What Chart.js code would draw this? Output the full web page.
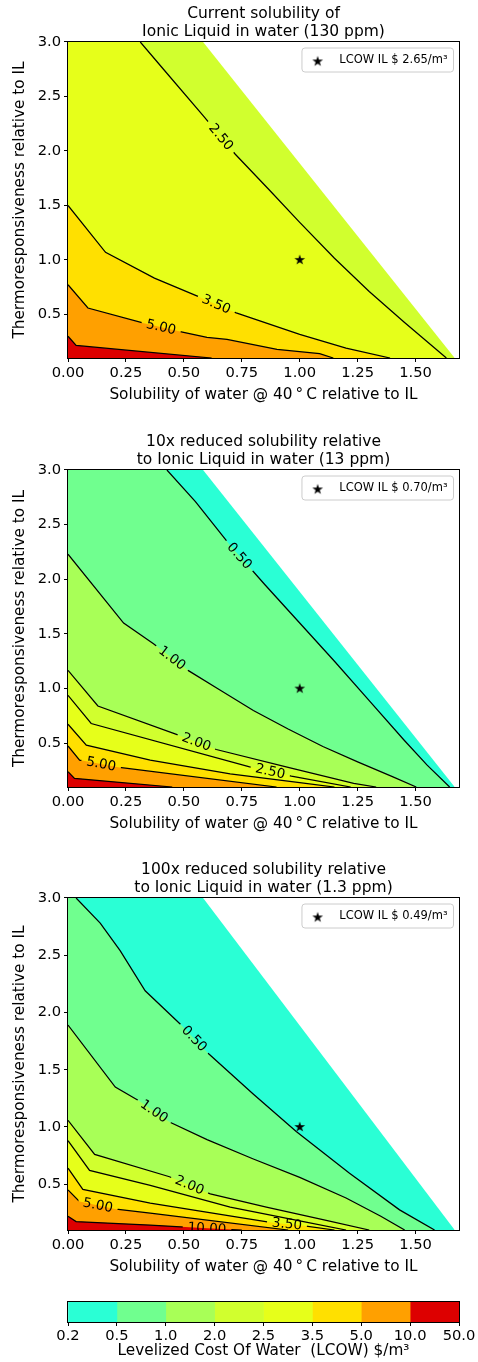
<!DOCTYPE html>
<html>
<head>
<meta charset="utf-8">
<title>LCOW contour maps</title>
<script src="https://cdn.jsdelivr.net/npm/chart.js@4.4.1/dist/chart.umd.min.js"></script>
<style>
  html, body { margin: 0; padding: 0; background: #fff; }
  body { position: relative; width: 478px; height: 1362px; overflow: hidden; }
  canvas { position: absolute; left: 0; }
</style>
</head>
<body>
<canvas id="panel1" width="478" height="404" style="top:0px"></canvas>
<canvas id="panel2" width="478" height="405" style="top:428px"></canvas>
<canvas id="panel3" width="478" height="420" style="top:856px"></canvas>
<canvas id="colorbar" width="478" height="72" style="top:1290px"></canvas>
<script>
// contour levels (LCOW $/m3) and axis ticks
const levels = [0.2, 0.5, 1.0, 2.0, 2.5, 3.5, 5.0, 10.0, 50.0];
const colorbarSpan = [1, 1, 1, 1, 1, 1, 1, 1];
const xTicks = [0, 0.25, 0.5, 0.75, 1.0, 1.25, 1.5];
const yTicks = [0.5, 1.0, 1.5, 2.0, 2.5, 3.0];
const xRange = [0, 1.6875];
const yRange = [0.1, 3.0];

// edge of the feasible region (white beyond it)
const domainEdge = [[0.583, 3.0], [1.669, 0.1]];
const bestPoint = [1.0, 1.0];
const lcowIL = [2.65, 0.70, 0.49];

const panelTitles = [
  ['Current solubility of', 'Ionic Liquid in water (130 ppm)'],
  ['10x reduced solubility relative', 'to Ionic Liquid in water (13 ppm)'],
  ['100x reduced solubility relative', 'to Ionic Liquid in water (1.3 ppm)']
];

// panel 1 - current solubility
const cur250 = [[0.312, 3.0], [0.412, 2.75], [0.585, 2.32], [0.722, 1.97], [0.870, 1.639], [1.0, 1.345], [1.15, 1.015], [1.30, 0.71], [1.45, 0.43], [1.633, 0.1]];
const cur350 = [[0, 1.5], [0.162, 1.07], [0.373, 0.833], [0.561, 0.665], [0.726, 0.514], [1.0, 0.316], [1.2, 0.19], [1.39, 0.1]];
const cur500 = [[0, 0.772], [0.086, 0.559], [0.323, 0.422], [0.489, 0.340], [0.6, 0.29], [0.686, 0.27], [0.902, 0.18], [1.086, 0.14], [1.145, 0.1]];
const cur1000 = [[0, 0.30], [0.035, 0.215], [0.62, 0.1]];
const curLabels = [[2.5, 0.66], [3.5, 0.64], [5.0, 0.402]];

// panel 2 - 10x reduced
const r10_050 = [[0.427, 3.0], [0.55, 2.71], [0.70, 2.31], [0.85, 1.95], [1.0, 1.60], [1.15, 1.25], [1.30, 0.89], [1.45, 0.53], [1.55, 0.30], [1.647, 0.1]];
const r10_100 = [[0, 2.23], [0.240, 1.60], [0.369, 1.41], [0.518, 1.167], [0.654, 0.99], [0.80, 0.80], [0.95, 0.63], [1.10, 0.47], [1.25, 0.33], [1.40, 0.195], [1.503, 0.1]];
const r10_200 = [[0, 1.167], [0.129, 0.841], [0.465, 0.583], [0.640, 0.443], [0.95, 0.28], [1.233, 0.133], [1.33, 0.1]];
const r10_250 = [[0, 0.939], [0.100, 0.681], [0.784, 0.285], [0.964, 0.20], [1.22, 0.1]];
const r10_350 = [[0, 0.674], [0.079, 0.483], [0.355, 0.346], [0.7, 0.22], [1.0, 0.14], [1.15, 0.1]];
const r10_500 = [[0, 0.475], [0.05, 0.346], [0.222, 0.279], [0.9, 0.1]];
const r10_1000 = [[0, 0.24], [0.028, 0.179], [0.45, 0.1]];
const r10Labels = [[0.5, 0.74], [1.0, 0.449], [2.0, 0.554], [2.5, 0.873], [5.0, 0.143]];

// panel 3 - 100x reduced
const r100_050 = [[0.035, 3.0], [0.139, 2.78], [0.225, 2.54], [0.333, 2.19], [0.484, 1.90], [0.607, 1.64], [0.798, 1.29], [0.985, 0.96], [1.215, 0.595], [1.431, 0.276], [1.582, 0.1]];
const r100_100 = [[0, 1.89], [0.204, 1.348], [0.304, 1.232], [0.438, 1.043], [0.6, 0.89], [0.8, 0.72], [1.0, 0.56], [1.2, 0.38], [1.35, 0.22], [1.453, 0.1]];
const r100_200 = [[0, 1.058], [0.115, 0.76], [0.438, 0.565], [0.614, 0.415], [0.856, 0.30], [1.1, 0.19], [1.3, 0.1]];
const r100_250 = [[0, 0.88], [0.093, 0.62], [0.355, 0.49], [0.7, 0.30], [1.0, 0.18], [1.2, 0.1]];
const r100_350 = [[0, 0.64], [0.064, 0.455], [0.355, 0.334], [0.88, 0.165], [1.02, 0.137], [1.15, 0.1]];
const r100_500 = [[0, 0.45], [0.05, 0.348], [0.208, 0.282], [0.355, 0.247], [0.95, 0.1]];
const r100_1000 = [[0, 0.22], [0.035, 0.174], [0.355, 0.143], [0.6, 0.115], [0.75, 0.1]];
const r100Labels = [[0.5, 0.545], [1.0, 0.372], [2.0, 0.525], [3.5, 0.945], [5.0, 0.129], [10.0, 0.6]];

const bandColors = ['#2affd5', '#70ff8f', '#a8ff57', '#d1ff2e', '#e6ff1a', '#ffe000', '#ffa000', '#dd0000'];
const LABEL_FONT = '13.5px "DejaVu Sans"';
const X_TITLE = 'Solubility of water @ 40\u2009\u00b0\u2009C relative to IL';
const Y_TITLE = 'Thermoresponsiveness relative to IL';

Chart.defaults.font.family = "'DejaVu Sans', sans-serif";
Chart.defaults.color = '#000';

function starMarker(R) {
    let size = Math.ceil(R * 2) + 2;
    let c = document.createElement('canvas');
    c.width = size;
    c.height = size;
    let g = c.getContext('2d');
    g.translate(size / 2, size / 2);
    g.beginPath();
    for (let k = 0; k < 10; k++) {
        let r = k % 2 ? R * 0.381966 : R;
        let a = -Math.PI / 2 + k * Math.PI / 5;
        if (k == 0) g.moveTo(r * Math.cos(a), r * Math.sin(a));
        else g.lineTo(r * Math.cos(a), r * Math.sin(a));
    }
    g.closePath();
    g.fillStyle = '#000';
    g.fill();
    return c;
}
const starImg = starMarker(5.6);

function toXY(pts) {
    return pts.map(p => ({x: p[0], y: p[1]}));
}

function labelBoxes(chart, labels, contours) {
    let xs = chart.scales.x, ys = chart.scales.y, ctx = chart.ctx;
    ctx.save();
    ctx.font = LABEL_FONT;
    let out = labels.map(([lev, lx]) => {
        let pts = contours.find(c => c[0] == lev)[1];
        let i = 0;
        while (i < pts.length - 2 && pts[i + 1][0] < lx) i++;
        let [x0, y0] = pts[i], [x1, y1] = pts[i + 1];
        let ly = y0 + (lx - x0) / (x1 - x0) * (y1 - y0);
        let ax = xs.getPixelForValue(x0), ay = ys.getPixelForValue(y0);
        let bx = xs.getPixelForValue(x1), by = ys.getPixelForValue(y1);
        let text = lev.toFixed(2);
        let w = ctx.measureText(text).width;
        return {
            level: lev, text: text,
            x: xs.getPixelForValue(lx), y: ys.getPixelForValue(ly),
            angle: Math.atan2(by - ay, bx - ax),
            hw: w / 2 + 5, hh: 7
        };
    });
    ctx.restore();
    return out;
}

function roundRect(ctx, x, y, w, h, r) {
    ctx.beginPath();
    ctx.moveTo(x + r, y);
    ctx.arcTo(x + w, y, x + w, y + h, r);
    ctx.arcTo(x + w, y + h, x, y + h, r);
    ctx.arcTo(x, y + h, x, y, r);
    ctx.arcTo(x, y, x + w, y, r);
    ctx.closePath();
}

function drawFrame(chart) {
    let ctx = chart.ctx, ca = chart.chartArea;
    ctx.save();
    ctx.strokeStyle = '#000';
    ctx.lineWidth = 1;
    ctx.strokeRect(ca.left - 0.5, ca.top - 0.5, ca.right - ca.left + 1, ca.bottom - ca.top + 1);
    ctx.restore();
}

function panelPlugin(contours, labels, legendText) {
    return {
        id: 'panelExtras',
        beforeDatasetDraw(chart, args) {
            let ds = chart.data.datasets[args.index];
            if (ds.contourLevel === undefined) return;
            let ctx = chart.ctx;
            ctx.save();
            ctx.beginPath();
            ctx.rect(0, 0, chart.width, chart.height);
            labelBoxes(chart, labels, contours).filter(b => b.level == ds.contourLevel).forEach(b => {
                let c = Math.cos(b.angle), s = Math.sin(b.angle);
                [[-b.hw, -b.hh], [b.hw, -b.hh], [b.hw, b.hh], [-b.hw, b.hh]].forEach(([u, v], i) => {
                    let px = b.x + u * c - v * s, py = b.y + u * s + v * c;
                    if (i == 0) ctx.moveTo(px, py);
                    else ctx.lineTo(px, py);
                });
                ctx.closePath();
            });
            ctx.clip('evenodd');
        },
        afterDatasetDraw(chart, args) {
            let ds = chart.data.datasets[args.index];
            if (ds.contourLevel !== undefined) chart.ctx.restore();
        },
        afterDatasetsDraw(chart) {
            let ctx = chart.ctx, ca = chart.chartArea;
            // inline contour labels
            ctx.save();
            ctx.beginPath();
            ctx.rect(ca.left, ca.top, ca.right - ca.left, ca.bottom - ca.top);
            ctx.clip();
            ctx.font = LABEL_FONT;
            ctx.fillStyle = '#000';
            ctx.textAlign = 'center';
            ctx.textBaseline = 'middle';
            labelBoxes(chart, labels, contours).forEach(b => {
                ctx.save();
                ctx.translate(b.x, b.y);
                ctx.rotate(b.angle);
                ctx.fillText(b.text, 0, 0.5);
                ctx.restore();
            });
            ctx.restore();

            drawFrame(chart);

            // legend box
            ctx.save();
            ctx.font = '11.5px "DejaVu Sans"';
            let tw = ctx.measureText(legendText).width;
            let w = 37.3 + tw + 6, h = 24;
            let x = ca.right - 5.5 - w, y = ca.top + 6;
            roundRect(ctx, x, y, w, h, 3);
            ctx.fillStyle = 'rgba(255,255,255,0.8)';
            ctx.fill();
            ctx.strokeStyle = '#cccccc';
            ctx.lineWidth = 1;
            ctx.stroke();
            ctx.drawImage(starImg, x + 15.7 - starImg.width / 2, y + 13.4 - starImg.height / 2);
            ctx.fillStyle = '#000';
            ctx.textBaseline = 'middle';
            ctx.fillText(legendText, x + 37.3, y + 12);
            ctx.restore();
        }
    };
}

function makePanel(canvasId, idx, contours, labels) {
    let lowest = contours[0][0];
    let fills = [[levels.indexOf(lowest) - 1, [[xRange[0], yRange[1]]].concat(domainEdge)]];
    contours.forEach(([lev, pts]) => {
        let lead = pts[0][0] > xRange[0] ? [[xRange[0], yRange[1]]] : [];
        fills.push([levels.indexOf(lev), lead.concat(pts)]);
    });
    let datasets = fills.map(([band, pts], i) => ({
        data: toXY(pts),
        fill: 'start',
        backgroundColor: bandColors[band],
        borderColor: 'rgba(0,0,0,0)',
        borderWidth: 0,
        pointRadius: 0,
        tension: 0,
        order: 100 - i
    }));
    contours.forEach(([lev, pts]) => {
        datasets.push({
            data: toXY(pts),
            contourLevel: lev,
            fill: false,
            borderColor: '#000',
            borderWidth: 1.25,
            pointRadius: 0,
            tension: 0,
            order: 10
        });
    });
    datasets.push({
        data: [{x: bestPoint[0], y: bestPoint[1]}],
        showLine: false,
        pointStyle: starImg,
        pointRadius: 6,
        order: 0
    });

    let legendText = 'LCOW IL $ ' + lcowIL[idx].toFixed(2) + '/m\u00b3';

    return new Chart(document.getElementById(canvasId), {
        type: 'line',
        data: {datasets: datasets},
        options: {
            responsive: false,
            animation: false,
            events: [],
            layout: {padding: {left: 0, right: 19, top: 0, bottom: 0}},
            plugins: {
                legend: {display: false},
                tooltip: {enabled: false},
                title: {
                    display: true,
                    text: panelTitles[idx],
                    fullSize: false,
                    color: '#000',
                    font: {size: 15.5, weight: 'normal'},
                    padding: {top: 4.3, bottom: 0.5}
                }
            },
            scales: {
                x: {
                    type: 'linear',
                    min: xRange[0],
                    max: xRange[1],
                    afterBuildTicks: s => { s.ticks = xTicks.map(v => ({value: v})); },
                    afterFit: s => { s.height = 46; },
                    grid: {display: true, drawOnChartArea: false, drawTicks: true, tickLength: 4, color: '#000'},
                    border: {display: false},
                    ticks: {font: {size: 14.7}, color: '#000', padding: 2, maxRotation: 0, autoSkip: false,
                        callback: v => v.toFixed(2)},
                    title: {display: true, text: X_TITLE, color: '#000', font: {size: 15.3}, padding: {top: 0, bottom: 0}}
                },
                y: {
                    type: 'linear',
                    min: yRange[0],
                    max: yRange[1],
                    afterBuildTicks: s => { s.ticks = yTicks.map(v => ({value: v})); },
                    afterFit: s => { s.width = 68; },
                    grid: {display: true, drawOnChartArea: false, drawTicks: true, tickLength: 4, color: '#000'},
                    border: {display: false},
                    ticks: {font: {size: 14.7}, color: '#000', padding: 3, autoSkip: false,
                        callback: v => v.toFixed(1)},
                    title: {display: true, text: Y_TITLE, color: '#000', font: {size: 15.3}, padding: {top: 11, bottom: 0}}
                }
            }
        },
        plugins: [panelPlugin(contours, labels, legendText)]
    });
}

makePanel('panel1', 0,
    [[2.5, cur250], [3.5, cur350], [5.0, cur500], [10.0, cur1000]], curLabels);
makePanel('panel2', 1,
    [[0.5, r10_050], [1.0, r10_100], [2.0, r10_200], [2.5, r10_250], [3.5, r10_350], [5.0, r10_500], [10.0, r10_1000]], r10Labels);
makePanel('panel3', 2,
    [[0.5, r100_050], [1.0, r100_100], [2.0, r100_200], [2.5, r100_250], [3.5, r100_350], [5.0, r100_500], [10.0, r100_1000]], r100Labels);

// colorbar
new Chart(document.getElementById('colorbar'), {
    type: 'bar',
    data: {
        labels: [''],
        datasets: bandColors.map((c, i) => ({
            data: [colorbarSpan[i]],
            backgroundColor: c,
            borderWidth: 0,
            barPercentage: 1,
            categoryPercentage: 1
        }))
    },
    options: {
        indexAxis: 'y',
        responsive: false,
        animation: false,
        events: [],
        layout: {padding: {left: 68, right: 19, top: 12, bottom: 0}},
        plugins: {legend: {display: false}, tooltip: {enabled: false}},
        scales: {
            x: {
                type: 'linear',
                stacked: true,
                min: 0,
                max: colorbarSpan.length,
                afterBuildTicks: s => { s.ticks = levels.map((v, i) => ({value: i})); },
                afterFit: s => { s.height = 40; },
                grid: {display: true, drawOnChartArea: false, drawTicks: true, tickLength: 4, color: '#000'},
                border: {display: false},
                ticks: {font: {size: 14.7}, color: '#000', padding: 1, maxRotation: 0, autoSkip: false,
                    callback: (v, i) => levels[i].toFixed(1)},
                title: {display: true, text: 'Levelized Cost Of Water  (LCOW) $/m\u00b3', color: '#000',
                    font: {size: 15.3}, padding: {top: 0, bottom: 2}}
            },
            y: {stacked: true, display: false}
        }
    },
    plugins: [{id: 'cbFrame', afterDatasetsDraw: drawFrame}]
});
</script>
</body>
</html>
